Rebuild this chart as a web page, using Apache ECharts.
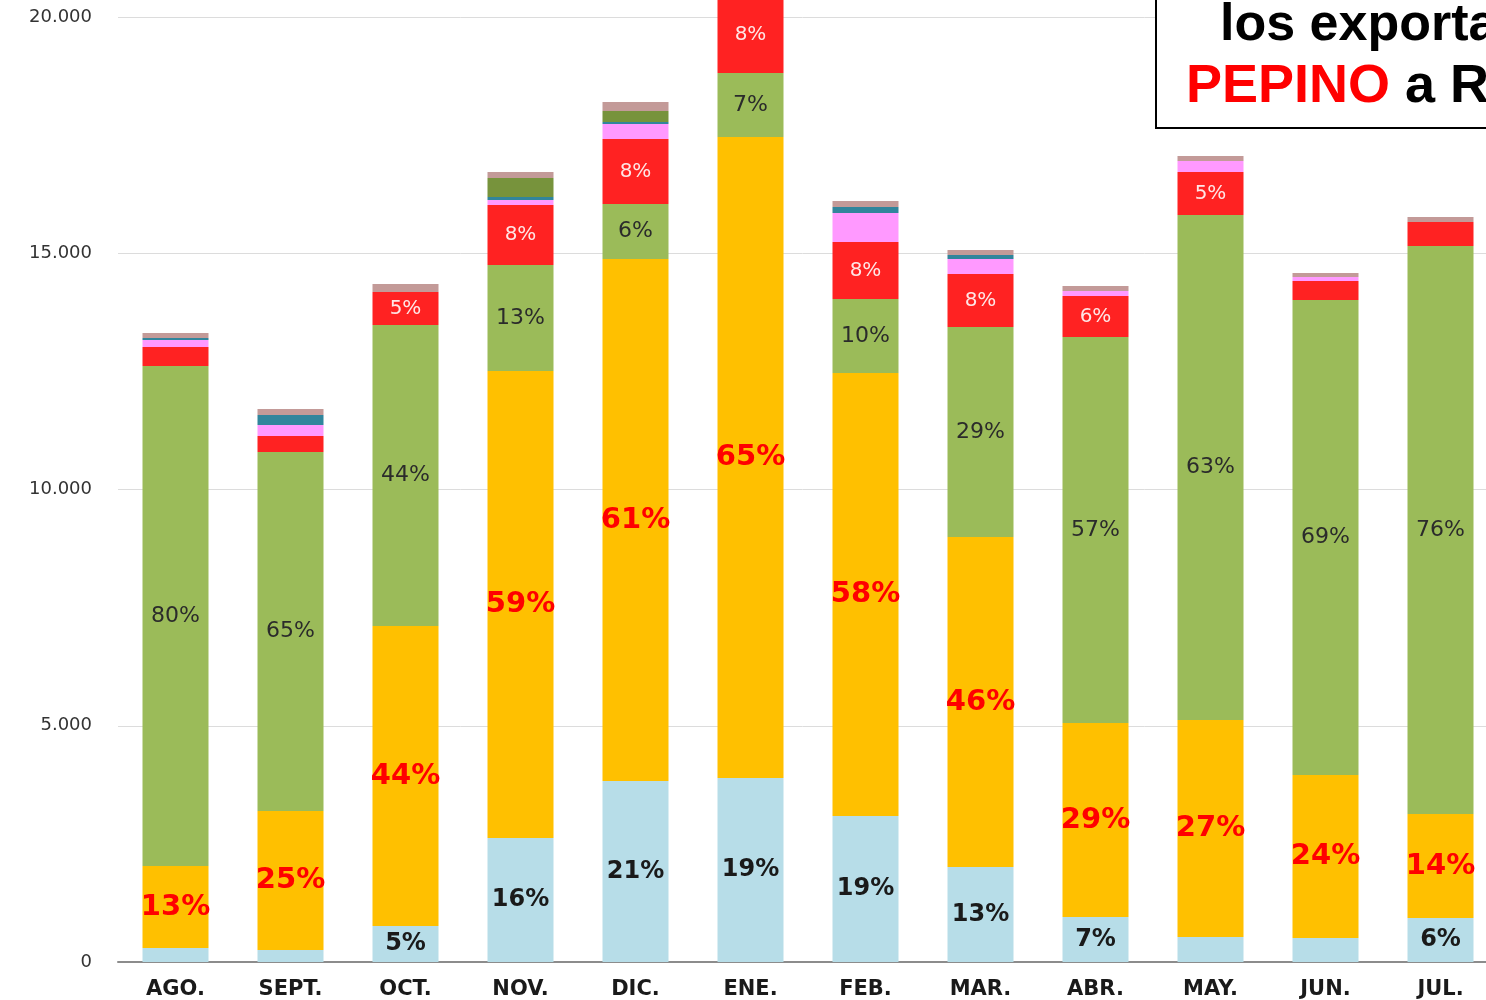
<!DOCTYPE html>
<html>
<head>
<meta charset="utf-8">
<script src="https://cdn.jsdelivr.net/npm/echarts@6/dist/echarts.min.js"></script>
<style>
  html, body { margin: 0; padding: 0; background: #fff; }
  #chart { width: 1486px; height: 1000px; }
</style>
</head>
<body>
<div id="chart"></div>
<script>
var months = ['AGO.', 'SEPT.', 'OCT.', 'NOV.', 'DIC.', 'ENE.', 'FEB.', 'MAR.', 'ABR.', 'MAY.', 'JUN.', 'JUL.'];
var yTicks = [0, 5000, 10000, 15000, 20000];

// stacked segments, bottom to top
var celeste  = [296, 254, 762, 2624, 3831, 3894, 3090, 2011, 952, 529, 508, 931];
var naranja  = [1736, 2942, 6349, 9884, 11047, 13566, 9376, 6984, 4106, 4593, 3450, 2201];
var verde    = [10582, 7598, 6370, 2243, 1164, 1355, 1566, 4444, 8170, 10688, 10053, 12021];
var rojo     = [402, 339, 698, 1270, 1376, 1620, 1206, 1122, 867, 910, 402, 508];
var rosa     = [148, 233, 0, 106, 317, 0, 614, 317, 106, 233, 85, 0];
var azul     = [42, 212, 0, 63, 42, 0, 127, 85, 0, 0, 0, 0];
var oliva    = [0, 0, 0, 402, 233, 0, 0, 0, 0, 0, 0, 0];
var marron   = [106, 127, 169, 127, 190, 0, 127, 106, 106, 106, 85, 106];

// percentage labels shown inside segments
var pctCeleste = ['', '', '5%', '16%', '21%', '19%', '19%', '13%', '7%', '', '', '6%'];
var pctNaranja = ['13%', '25%', '44%', '59%', '61%', '65%', '58%', '46%', '29%', '27%', '24%', '14%'];
var pctVerde   = ['80%', '65%', '44%', '13%', '6%', '7%', '10%', '29%', '57%', '63%', '69%', '76%'];
var pctRojo    = ['', '', '5%', '8%', '8%', '8%', '8%', '8%', '6%', '5%', '', ''];

function seg(name, data, color, labels, labelStyle) {
    var s = {
        name: name,
        type: 'bar',
        stack: 'total',
        barWidth: 66,
        clip: false,
        data: data,
        itemStyle: { color: color },
        label: { show: false }
    };
    if (labels) {
        s.label = Object.assign({
            show: true,
            position: 'inside',
            fontFamily: 'DejaVu Sans',
            formatter: function (p) { return labels[p.dataIndex]; }
        }, labelStyle);
    }
    return s;
}

const chart = echarts.init(document.getElementById('chart'));
var option = {
    animation: false,
    backgroundColor: '#fff',
    grid: { left: 118, width: 1380, top: 17, bottom: 38, outerBoundsMode: 'none', containLabel: false },
    xAxis: {
        type: 'category',
        data: months,
        axisLine: { lineStyle: { color: '#8c8c8c', width: 2 } },
        axisTick: { show: false },
        axisLabel: {
            margin: 17,
            fontFamily: 'DejaVu Sans',
            fontWeight: 'bold',
            fontSize: 21,
            color: '#1a1a1a'
        }
    },
    yAxis: {
        type: 'value',
        min: yTicks[0],
        max: yTicks[yTicks.length - 1],
        interval: 5000,
        axisLine: { show: false },
        axisTick: { show: false },
        splitLine: { lineStyle: { color: '#dcdcdc' } },
        axisLabel: {
            margin: 26,
            fontFamily: 'DejaVu Sans',
            fontSize: 18,
            color: '#333',
            formatter: function (v) { return v.toLocaleString('de-DE'); }
        }
    },
    series: [
        seg('celeste', celeste, '#B7DDE8', pctCeleste, { color: '#1a1a1a', fontWeight: 'bold', fontSize: 24 }),
        seg('naranja', naranja, '#FFC000', pctNaranja, { color: '#FF0000', fontWeight: 'bold', fontSize: 29 }),
        seg('verde', verde, '#9BBB59', pctVerde, { color: '#2b2b2b', fontSize: 22 }),
        seg('rojo', rojo, '#FF2222', pctRojo, { color: '#FFE6E6', fontSize: 20 }),
        seg('rosa', rosa, '#FF99FF'),
        seg('azul', azul, '#31859C'),
        seg('oliva', oliva, '#77933C'),
        seg('marron', marron, '#C39A98')
    ],
    graphic: [
        {
            type: 'rect',
            z: 100,
            shape: { x: 1156, y: -10, width: 400, height: 138 },
            style: { fill: '#fff', stroke: '#000', lineWidth: 2 }
        },
        {
            type: 'text',
            z: 101,
            left: 1220,
            top: 0,
            style: {
                text: 'los exporta',
                font: 'bold 52px "Liberation Sans"',
                fill: '#000'
            }
        },
        {
            type: 'text',
            z: 101,
            left: 1186,
            top: 60,
            style: {
                rich: {
                    r: { fontFamily: 'Liberation Sans', fontWeight: 'bold', fontSize: 54, fill: '#FF0000' },
                    k: { fontFamily: 'Liberation Sans', fontWeight: 'bold', fontSize: 54, fill: '#000' }
                },
                text: '{r|PEPINO}{k| a R}'
            }
        }
    ]
};
chart.setOption(option);
</script>
</body>
</html>
